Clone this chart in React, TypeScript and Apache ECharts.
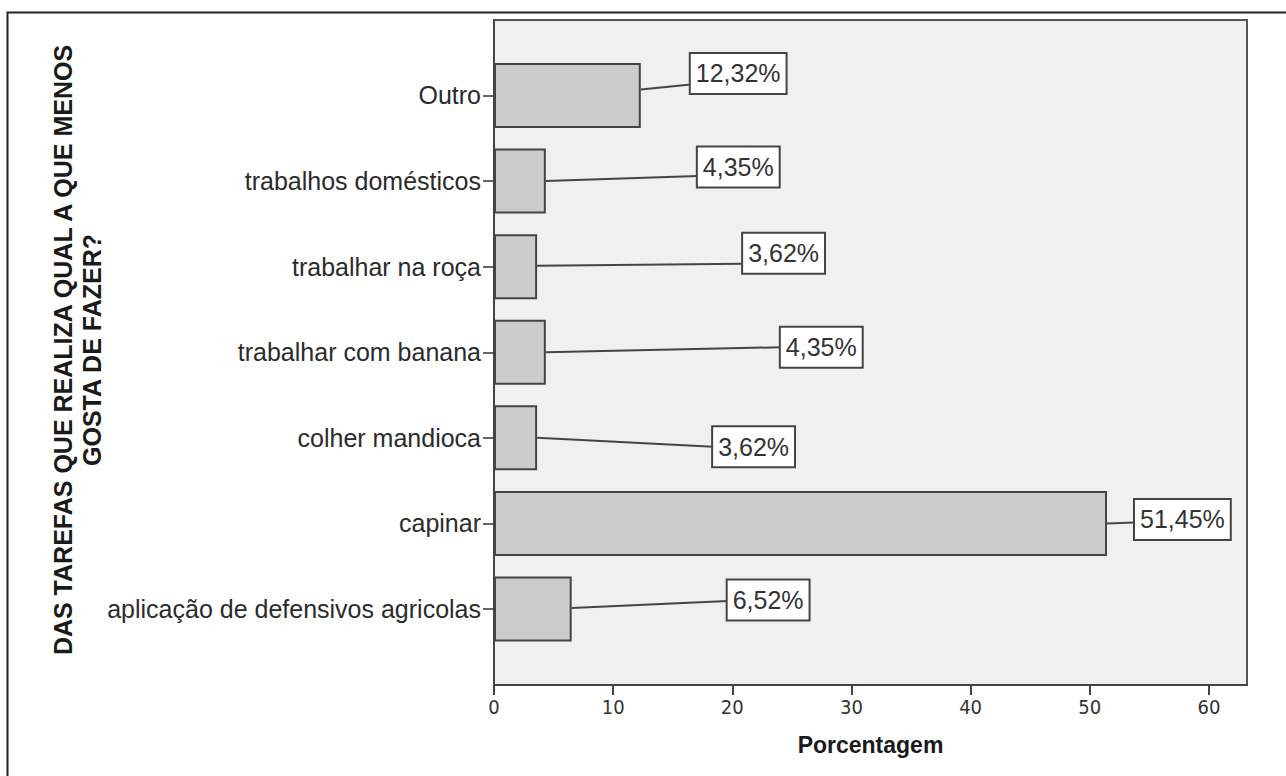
import React, { useEffect, useRef } from "react";
import * as echarts from "echarts";

const categories: string[] = [
  "Outro",
  "trabalhos domésticos",
  "trabalhar na roça",
  "trabalhar com banana",
  "colher mandioca",
  "capinar",
  "aplicação de defensivos agricolas",
];
const percentValues: number[] = [12.32, 4.35, 3.62, 4.35, 3.62, 51.45, 6.52];
const xTickValues: number[] = [0, 10, 20, 30, 40, 50, 60];
const xAxisTitle = "Porcentagem";
const yAxisTitle = "DAS TAREFAS QUE REALIZA QUAL A QUE MENOS\nGOSTA DE FAZER?";

// label placement offsets (layout only)
const labelDx: number[] = [50, 152, 206, 235, 176, 28, 156];
const labelDy: number[] = [-22, -14, -13.5, -5, 9, -4, -9];
// leader-line offsets relative to the bar end centre
const lineStartDy: number[] = [-6, 0, -1, 0, 0, 0, -1];
const lineEndDy: number[] = [-11, -5, -3, -5, 9, -1, -8];

const FONT = 'Arial, "Liberation Sans", sans-serif';
const NARROW = '"Liberation Sans Narrow", "Arial Narrow", "DejaVu Sans Condensed", Arial, sans-serif';

export default function App() {
  const ref = useRef<HTMLDivElement>(null);
  useEffect(() => {
    if (!ref.current) return;
    const chart = echarts.init(ref.current, null, { renderer: "svg" });
    const option: any = {
      animation: false,
      backgroundColor: "#ffffff",
      textStyle: { fontFamily: FONT },
      grid: [
        {
          left: 494,
          right: 39,
          top: 20,
          bottom: 91,
          show: true,
          backgroundColor: "#f0f0f0",
          borderColor: "#555555",
          borderWidth: 2,
        },
        {
          left: 494,
          right: 39,
          top: 52.7,
          bottom: 124.2,
        },
      ],
      xAxis: [
        {
          type: "value",
          gridIndex: 0,
          min: 0,
          max: 63.2,
          axisLine: { show: true, lineStyle: { color: "#444", width: 2 } },
          axisTick: {
            show: true,
            customValues: xTickValues,
            length: 10,
            lineStyle: { color: "#444", width: 2 },
          },
          axisLabel: {
            customValues: xTickValues,
            fontSize: 20,
            fontFamily: NARROW,
            color: "#333",
            margin: 12,
          },
          splitLine: { show: false },
          name: xAxisTitle,
          nameLocation: "middle",
          nameGap: 48,
          nameTextStyle: {
            fontSize: 23,
            fontWeight: "bold",
            color: "#1a1a1a",
            fontFamily: FONT,
          },
        },
        {
          type: "value",
          gridIndex: 1,
          min: 0,
          max: 63.2,
          show: false,
        },
      ],
      yAxis: [
        {
          type: "value",
          gridIndex: 0,
          min: 0,
          max: 1,
          axisLine: { show: true, lineStyle: { color: "#444", width: 2 } },
          axisTick: { show: false },
          axisLabel: { show: false },
          splitLine: { show: false },
        },
        {
          type: "category",
          gridIndex: 1,
          data: categories,
          inverse: true,
          axisLine: { show: false },
          axisTick: {
            show: true,
            alignWithLabel: true,
            length: 11,
            lineStyle: { color: "#333", width: 1.5 },
          },
          axisLabel: {
            fontSize: 25,
            color: "#2b2b2b",
            margin: 13,
            fontFamily: FONT,
          },
          splitLine: { show: false },
        },
      ],
      series: [
        {
          type: "custom",
          xAxisIndex: 1,
          yAxisIndex: 1,
          z: 1,
          silent: true,
          data: percentValues.map((v, i) => [v, i]),
          renderItem: (params: any, api: any) => {
            const i = params.dataIndex;
            const p = api.coord([api.value(0), api.value(1)]);
            return {
              type: "line",
              shape: {
                x1: p[0],
                y1: p[1] + lineStartDy[i],
                x2: p[0] + labelDx[i],
                y2: p[1] + lineEndDy[i],
              },
              style: { stroke: "#444", lineWidth: 2 },
            };
          },
        },
        {
          type: "bar",
          xAxisIndex: 1,
          yAxisIndex: 1,
          z: 3,
          data: percentValues,
          barWidth: 65,
          itemStyle: {
            color: "#cccccc",
            borderColor: "#444444",
            borderWidth: 2,
          },
          label: {
            show: true,
            position: "right",
            distance: 0,
            formatter: (p: any) => p.value.toFixed(2).replace(".", ",") + "%",
            fontSize: 25,
            fontFamily: FONT,
            color: "#333",
            backgroundColor: "#ffffff",
            borderColor: "#444",
            borderWidth: 2,
            padding: [7, 5, 6, 5],
            lineHeight: 26,
          },
          labelLayout: (params: any) => ({
            dx: labelDx[params.dataIndex],
            dy: labelDy[params.dataIndex],
          }),
        },
      ],
      graphic: [
        {
          type: "rect",
          left: 5,
          top: 10,
          shape: { width: 1300, height: 800 },
          style: { fill: "none", stroke: "#222", lineWidth: 2 },
          z: 0,
        },
        {
          type: "text",
          x: 77,
          y: 350,
          rotation: Math.PI / 2,
          style: {
            text: yAxisTitle,
            align: "center",
            verticalAlign: "middle",
            font: `bold 25px ${FONT}`,
            fill: "#1a1a1a",
            lineHeight: 29,
          },
        },
      ],
    };
    chart.setOption(option);
    return () => chart.dispose();
  }, []);
  return (
    <div
      ref={ref}
      style={{ position: "absolute", left: 0, top: 0, width: 1286, height: 776 }}
    />
  );
}
